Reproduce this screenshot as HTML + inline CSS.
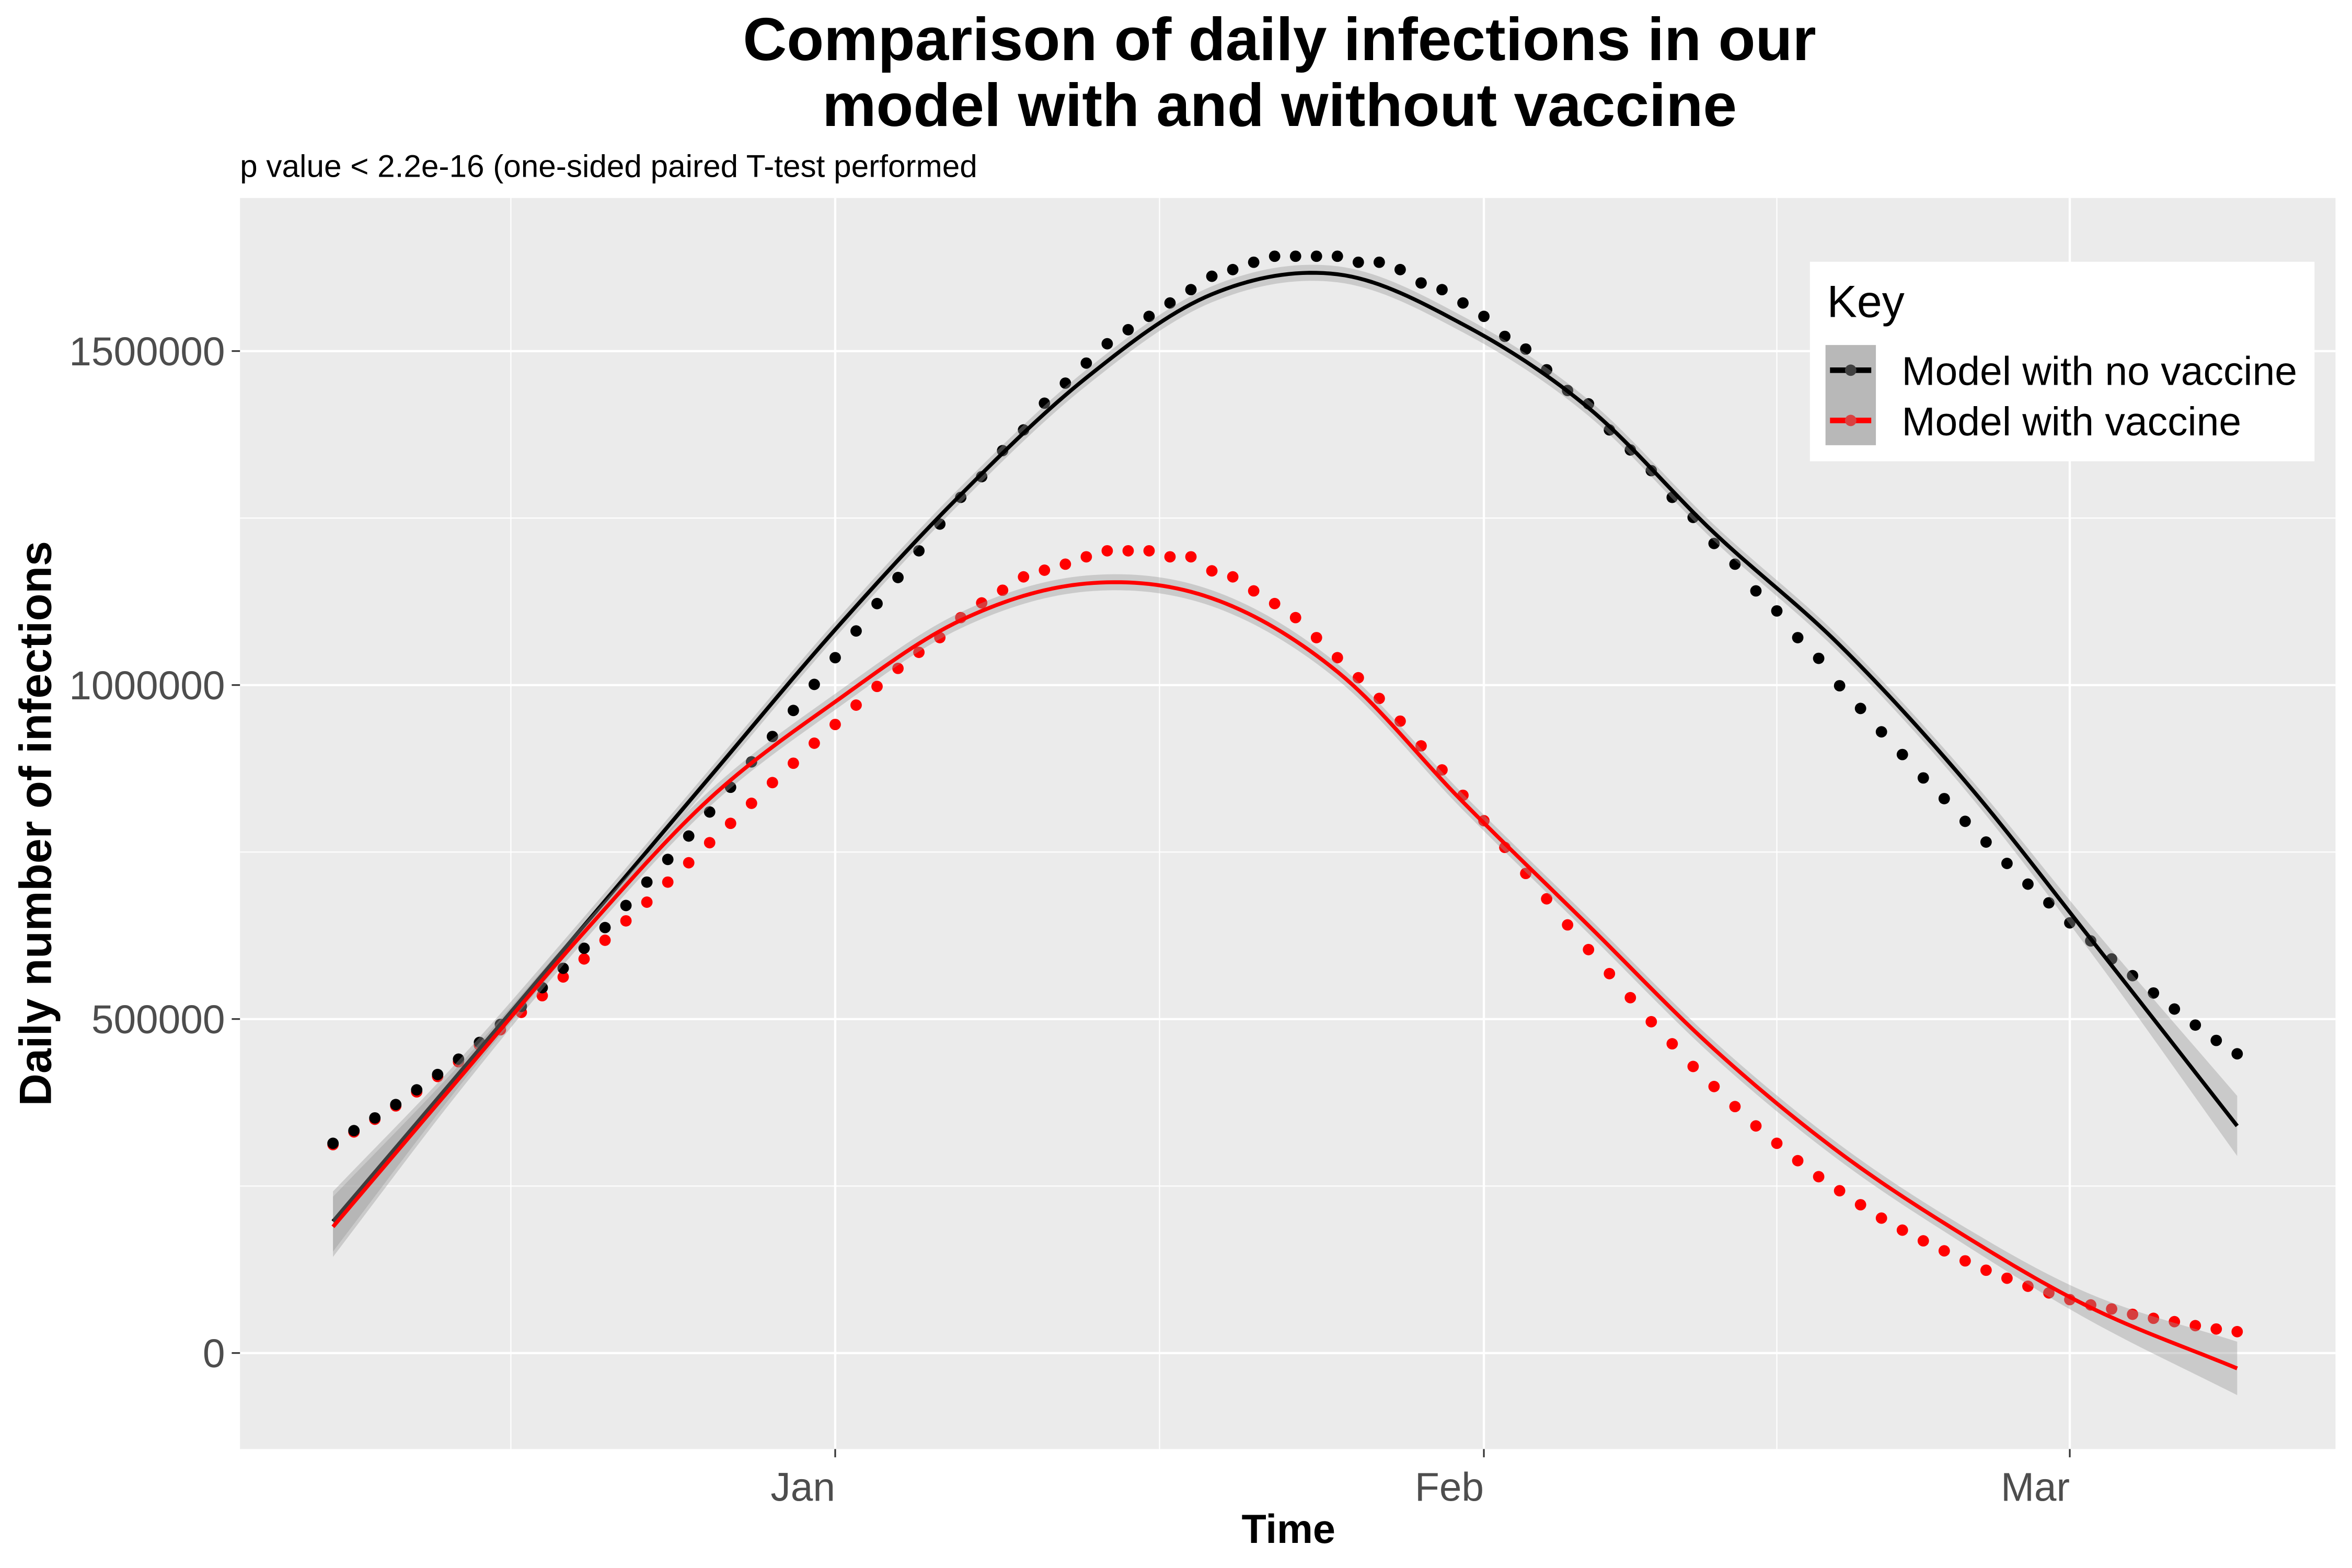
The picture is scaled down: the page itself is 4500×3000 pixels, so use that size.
<!DOCTYPE html>
<html><head><meta charset="utf-8"><title>Daily infections comparison</title>
<style>html,body{margin:0;padding:0;background:#fff}svg{display:block}</style></head>
<body>
<svg id="chart" xmlns="http://www.w3.org/2000/svg" width="4500" height="3000" viewBox="0 0 1568 1045.3" preserveAspectRatio="none" font-family="'Liberation Sans', Arial, sans-serif">
<rect x="0" y="0" width="1568" height="1046" fill="#fff"/>
<text x="853" y="40" text-anchor="middle" font-size="40.5" font-weight="bold" fill="#000">Comparison of daily infections in our</text>
<text x="853" y="84" text-anchor="middle" font-size="40.5" font-weight="bold" fill="#000">model with and without vaccine</text>
<text x="160" y="118" font-size="21" fill="#000">p value &lt; 2.2e-16 (one-sided paired T-test performed</text>
<rect x="160" y="132" width="1397" height="834" fill="#EBEBEB"/>
<g id="grid"></g>
<g id="clipwrap" clip-path="url(#pc)">
<defs><clipPath id="pc"><rect x="160" y="132" width="1397" height="834"/></clipPath></defs>
<g id="points"></g>
<g id="smooth"></g>
</g>
<g id="axes"></g>
<text x="859" y="1028.5" text-anchor="middle" font-size="27" font-weight="bold" fill="#000">Time</text>
<text transform="translate(34,549) rotate(-90)" text-anchor="middle" font-size="30" font-weight="bold" fill="#000">Daily number of infections</text>
<g>
<rect x="1206.6" y="174.5" width="336.4" height="133" fill="#fff"/>
<text x="1218" y="211.4" font-size="30" fill="#000">Key</text>
<rect x="1217" y="230" width="33.6" height="66.8" fill="#B8B8B8"/>
<g>
<line x1="1220" y1="246.8" x2="1247.5" y2="246.8" stroke="#000" stroke-width="3.7"/>
<circle cx="1233.8" cy="246.8" r="3.8" fill="#404040"/>
<text x="1267.8" y="256.7" font-size="26.8" fill="#000">Model with no vaccine</text>
</g>
<g>
<line x1="1220" y1="280.3" x2="1247.5" y2="280.3" stroke="#FF0000" stroke-width="3.7"/>
<circle cx="1233.8" cy="280.3" r="3.8" fill="#D94040"/>
<text x="1267.8" y="290.3" font-size="26.8" fill="#000">Model with vaccine</text>
</g>
</g>
</svg>
<script>
// ---- data (values in millions of infections; day index 0 = Dec 8) ----
const xTickLabels = ["Jan", "Feb", "Mar"];
const xTickDays = [24, 55, 83];
const xMinorDays = [8.5, 39.5, 69];
const yTickValues = [0, 0.5, 1.0, 1.5];
const yTickLabels = ["0", "500000", "1000000", "1500000"];
const yMinorValues = [0.25, 0.75, 1.25];

const noVaccineDaily = [0.314,0.333,0.352,0.372,0.394,0.417,0.440,0.465,0.492,0.519,0.547,0.576,0.606,0.637,0.670,0.705,0.739,0.774,0.810,0.847,0.885,0.923,0.962,1.001,1.041,1.081,1.122,1.161,1.201,1.241,
1.281,1.312,1.351,1.382,1.422,1.452,1.482,1.511,1.532,1.552,1.572,1.592,1.612,1.622,1.633,1.642,1.642,1.642,1.642,1.633,1.633,1.622,1.602,1.592,1.572,1.552,1.522,1.503,1.472,1.441,1.421,1.382,
1.352,1.321,1.281,1.251,1.212,1.181,1.141,1.111,1.071,1.040,0.999,0.965,0.930,0.896,0.861,0.830,0.796,0.765,0.733,0.702,0.674,0.644,0.617,0.590,0.565,0.539,0.515,0.491,0.468,0.448];
const vaccineDaily = [0.312,0.331,0.350,0.370,0.391,0.414,0.436,0.461,0.484,0.510,0.535,0.563,0.590,0.618,0.647,0.675,0.705,0.734,0.764,0.793,0.823,0.854,0.883,0.913,0.941,0.970,0.998,1.025,1.049,1.071,1.101,1.123,
1.142,1.162,1.172,1.181,1.192,1.201,1.201,1.201,1.192,1.192,1.171,1.162,1.141,1.122,1.101,1.071,1.041,1.011,0.980,0.946,0.909,0.873,0.835,0.797,0.757,
0.718,0.680,0.641,0.604,0.568,0.532,0.496,0.463,0.429,0.399,0.369,0.340,0.314,0.288,0.264,0.243,0.222,0.202,0.184,0.168,0.153,0.138,0.124,0.112,0.100,0.090,0.080,0.072,0.066,0.058,0.052,0.047,0.041,0.036,0.032];

const noVaccineFitDays = [0,6,12,18,24,30,36,42,48,54,60,66,72,78,84,91];
const noVaccineFit = [0.197,0.418,0.640,0.862,1.083,1.285,1.460,1.585,1.615,1.540,1.415,1.228,1.060,0.856,0.620,0.340];
const noVaccineSE = [0.045,0.02,0.013,0.012,0.012,0.012,0.012,0.012,0.012,0.012,0.012,0.012,0.012,0.013,0.02,0.045];
const vaccineFitDays = [0,6,12,18,24,30,36,42,48,54,60,66,72,78,84,91];
const vaccineFit = [0.189,0.410,0.630,0.830,0.975,1.097,1.152,1.130,1.020,0.825,0.640,0.455,0.300,0.175,0.068,-0.023];
const vaccineSE = [0.045,0.02,0.013,0.012,0.012,0.012,0.012,0.012,0.012,0.012,0.012,0.012,0.012,0.013,0.02,0.04];

// ---- scales ----
const PL = 160, PR = 1557, PT = 132, PB = 966;
function xScale(d) { return 222 + 13.95 * d; }
function yScale(v) { return 902 - 445.3 * v; }
const NS = "http://www.w3.org/2000/svg";
function mk(tag, attrs, parent) {
  const e = document.createElementNS(NS, tag);
  for (const k in attrs) e.setAttribute(k, attrs[k]);
  parent.appendChild(e);
  return e;
}

// ---- grid ----
const grid = document.getElementById("grid");
yMinorValues.forEach(v => {
  const l = mk("line", {x1: PL, x2: PR, y1: yScale(v), y2: yScale(v), stroke: "#fff", "stroke-width": 0.75}, grid);
  
  
});
xMinorDays.forEach(d => {
  const l = mk("line", {x1: xScale(d), x2: xScale(d), y1: PT, y2: PB, stroke: "#fff", "stroke-width": 0.75}, grid);
  
  
});
yTickValues.forEach(v => {
  const l = mk("line", {x1: PL, x2: PR, y1: yScale(v), y2: yScale(v), stroke: "#fff", "stroke-width": 1.5}, grid);
  
  
});
xTickDays.forEach(d => {
  const l = mk("line", {x1: xScale(d), x2: xScale(d), y1: PT, y2: PB, stroke: "#fff", "stroke-width": 1.5}, grid);
  
  
});

// ---- axes ----
const axes = document.getElementById("axes");
yTickValues.forEach((v, i) => {
  const t = mk("line", {x1: 154.5, x2: 160, y1: yScale(v), y2: yScale(v), stroke: "#333", "stroke-width": 1.1}, axes);
  
  
  const tx = mk("text", {x: 150, y: yScale(v) + 9.5, "text-anchor": "end", "font-size": 26.7, fill: "#4D4D4D"}, axes);
  tx.textContent = yTickLabels[i];
  
  
});
xTickDays.forEach((d, i) => {
  const t = mk("line", {x1: xScale(d), x2: xScale(d), y1: 966, y2: 971.5, stroke: "#333", "stroke-width": 1.1}, axes);
  
  
  const tx = mk("text", {x: xScale(d), y: 1000.5, "text-anchor": "end", "font-size": 26.7, fill: "#4D4D4D"}, axes);
  tx.textContent = xTickLabels[i];
  
  
});

// ---- points (vaccine first so no-vaccine dots sit on top) ----
const pts = document.getElementById("points");
vaccineDaily.forEach((v, i) => {
  const c = mk("circle", {cx: xScale(i), cy: yScale(v), r: 3.8, fill: "#FF0000"}, pts);
  
  
});
noVaccineDaily.forEach((v, i) => {
  const c = mk("circle", {cx: xScale(i), cy: yScale(v), r: 3.8, fill: "#000"}, pts);
  
  
});

// ---- smooth curves ----
function spline(days, vals) {
  const out = [];
  const n = days.length;
  for (let i = 0; i < n - 1; i++) {
    const p0 = i > 0 ? i - 1 : i, p3 = i + 2 < n ? i + 2 : i + 1;
    const x0 = days[p0], x1 = days[i], x2 = days[i + 1], x3 = days[p3];
    const y0 = vals[p0], y1 = vals[i], y2 = vals[i + 1], y3 = vals[p3];
    const m1 = (y2 - y0) / ((x2 - x0) || 1), m2 = (y3 - y1) / ((x3 - x1) || 1);
    const h = x2 - x1;
    const steps = Math.max(4, Math.round(h * 3));
    for (let s = 0; s < steps; s++) {
      const t = s / steps, t2 = t * t, t3 = t2 * t;
      const y = (2*t3 - 3*t2 + 1) * y1 + (t3 - 2*t2 + t) * h * m1 + (-2*t3 + 3*t2) * y2 + (t3 - t2) * h * m2;
      out.push([x1 + t * h, y]);
    }
  }
  out.push([days[n - 1], vals[n - 1]]);
  return out;
}
const sm = document.getElementById("smooth");
function drawFit(days, fit, se, color, name) {
  const mid = spline(days, fit);
  const up = spline(days, fit.map((v, i) => v + se[i]));
  const lo = spline(days, fit.map((v, i) => v - se[i]));
  let d = "M" + up.map(p => xScale(p[0]).toFixed(2) + "," + yScale(p[1]).toFixed(2)).join("L");
  d += "L" + lo.reverse().map(p => xScale(p[0]).toFixed(2) + "," + yScale(p[1]).toFixed(2)).join("L") + "Z";
  const rib = mk("path", {d: d, fill: "#999999", "fill-opacity": 0.4}, sm);
  
  
  const ln = mk("path", {d: "M" + mid.map(p => xScale(p[0]).toFixed(2) + "," + yScale(p[1]).toFixed(2)).join("L"), fill: "none", stroke: color, "stroke-width": 2.6, "stroke-linejoin": "round"}, sm);
  
  
}
drawFit(noVaccineFitDays, noVaccineFit, noVaccineSE, "#000", "no-vaccine");
drawFit(vaccineFitDays, vaccineFit, vaccineSE, "#FF0000", "vaccine");
</script>
</body></html>
